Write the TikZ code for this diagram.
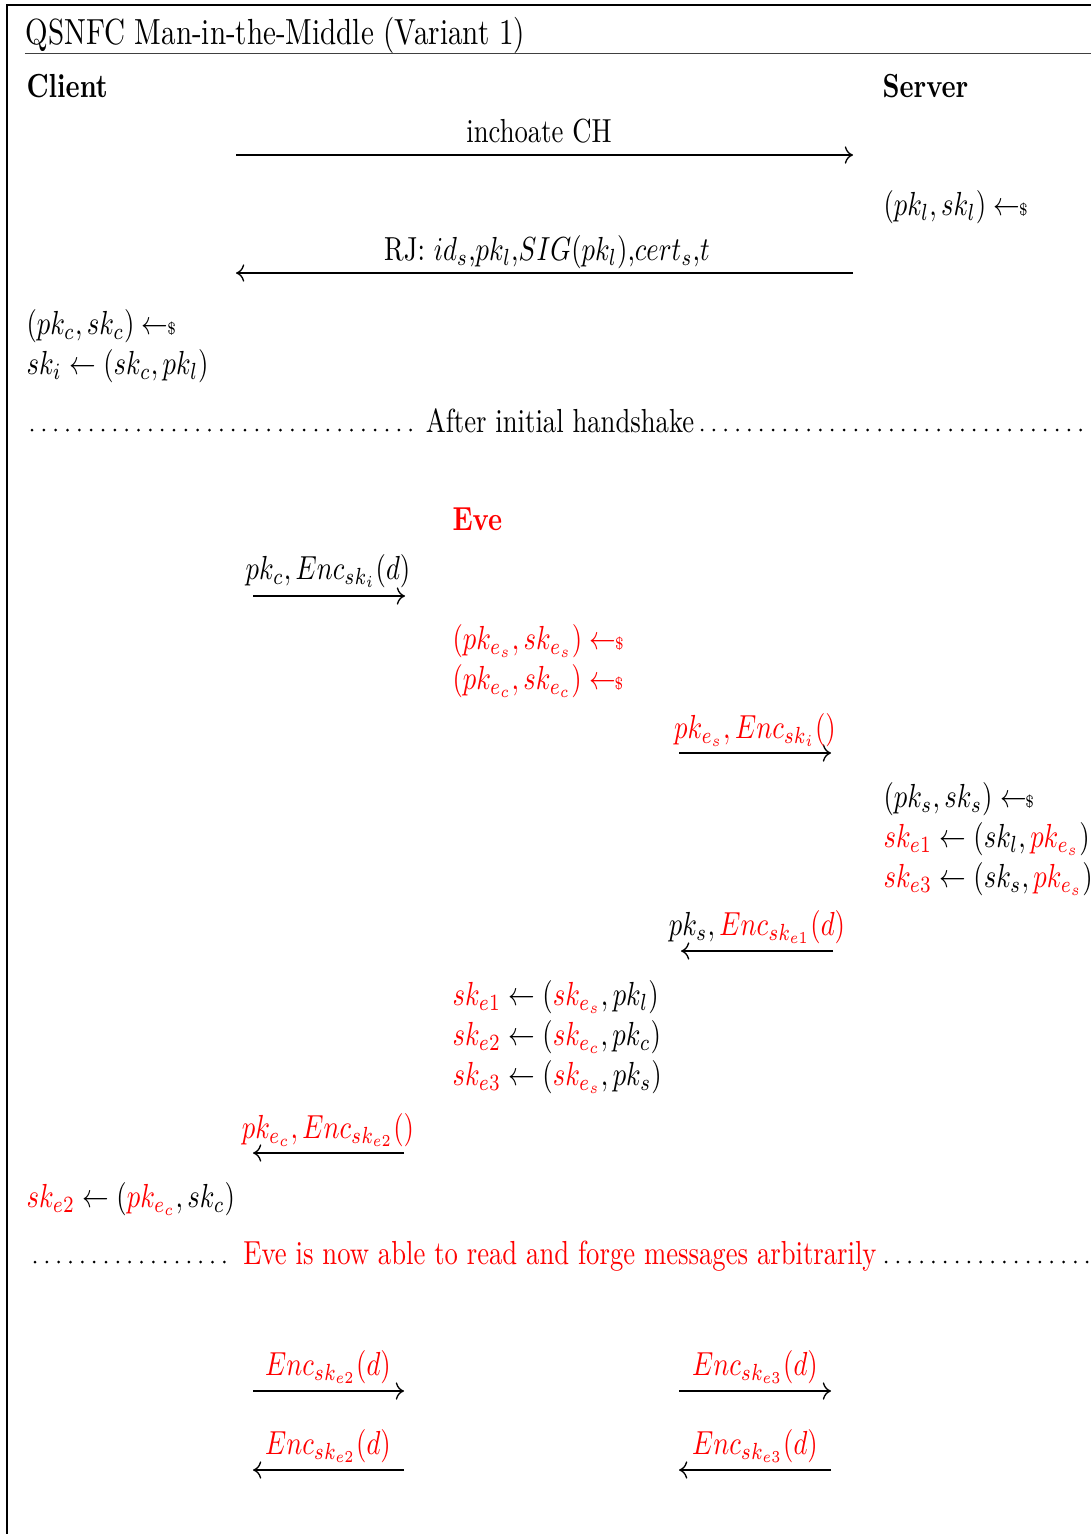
\documentclass[tikz,border=0pt]{standalone}
\usepackage{amsmath,amssymb}
\usetikzlibrary{calc, positioning, arrows.meta}
\newcommand{\smp}{\mathrel{\leftarrow\!\!\mbox{\tiny\$}}}
\newcommand{\ev}[1]{\textcolor{red}{#1}}

\begin{document}
\begin{tikzpicture}[xscale=0.8, x=0.375pt, y=-0.3pt,
    every node/.style={transform shape},
    txt/.style={anchor=base west, inner sep=0pt, yshift=-0.6pt},
    msglbl/.style={anchor=base, inner sep=0pt, yshift=-0.6pt},
    msg/.style={->, line width=0.4pt},
    dotline/.style={line width=0.9pt, line cap=round, dash pattern=on 0pt off 3.55pt}]
  \useasboundingbox (0,0) rectangle (1091,1534);
  \clip (0,0) rectangle (1091,1534);
  % frame and title
  \draw[line width=0.6pt] (7.5,1560) -- (7.5,4.5) -- (1120,4.5);
  \node[txt, font=\fontsize{10.9}{13}\selectfont] (title) at (25,42) {QSNFC Man-in-the-Middle (Variant 1)};
  \draw[black!75, line width=0.45pt] (25,53.5) -- (1120,53.5);
  \node[txt, font=\bfseries] (client) at (26,95) {Client};
  \node[txt, font=\bfseries] (server) at (882,95) {Server};

  % initial handshake
  \coordinate (m1a) at (236,155);
  \coordinate (m1b) at (853,155);
  \draw[msg] (m1a) -- (m1b);
  \node[msglbl] (m1) at (539,140) {inchoate CH};
  \node[txt] (genl) at (883,213) {$(pk_l, sk_l) \smp$};
  \coordinate (m2a) at (853,273);
  \coordinate (m2b) at (236,273);
  \draw[msg] (m2a) -- (m2b);
  \node[msglbl] (m2) at (547,258) {RJ: $id_s$,$pk_l$,$SIG(pk_l)$,$cert_s$,$t$};
  \node[txt] (genc) at (26,332) {$(pk_c, sk_c) \smp$};
  \node[txt] (ski) at (26,372) {$sk_i \leftarrow (sk_c, pk_l)$};

  % separator
  \node[msglbl] (sep1) at (560,430) {After initial handshake};
  \coordinate (d1a) at (32,430);
  \coordinate (d1b) at (419,430);
  \coordinate (d1c) at (702,430);
  \coordinate (d1d) at (1095,430);
  \draw[dotline] (d1a) -- (d1b);
  \draw[dotline] (d1c) -- (d1d);

  % attack
  \node[txt, text=red, font=\bfseries] (eve) at (452,528) {Eve};
  \coordinate (m3a) at (253,596);
  \coordinate (m3b) at (405,596);
  \draw[msg] (m3a) -- (m3b);
  \node[msglbl] (m3) at (328,577) {$pk_c, Enc_{sk_i}(d)$};
  \node[txt, text=red] (genes) at (452,647) {$(pk_{e_s}, sk_{e_s}) \smp$};
  \node[txt, text=red] (genec) at (452,687) {$(pk_{e_c}, sk_{e_c}) \smp$};
  \coordinate (m4a) at (679,753);
  \coordinate (m4b) at (831,753);
  \draw[msg] (m4a) -- (m4b);
  \node[msglbl, text=red] (m4) at (755,736) {$pk_{e_s}, Enc_{sk_i}()$};
  \node[txt] (gens) at (883,805) {$(pk_s, sk_s) \smp$};
  \node[txt] (sske1) at (883,845) {$\ev{sk_{e1}} \leftarrow (sk_l, \ev{pk_{e_s}})$};
  \node[txt] (sske3) at (883,885) {$\ev{sk_{e3}} \leftarrow (sk_s, \ev{pk_{e_s}})$};
  \coordinate (m5a) at (833,951);
  \coordinate (m5b) at (681,951);
  \draw[msg] (m5a) -- (m5b);
  \node[msglbl] (m5) at (757,933) {$pk_s, \ev{Enc_{sk_{e1}}(d)}$};
  \node[txt] (eske1) at (452,1003) {$\ev{sk_{e1}} \leftarrow (\ev{sk_{e_s}}, pk_l)$};
  \node[txt] (eske2) at (452,1043) {$\ev{sk_{e2}} \leftarrow (\ev{sk_{e_c}}, pk_c)$};
  \node[txt] (eske3) at (452,1083) {$\ev{sk_{e3}} \leftarrow (\ev{sk_{e_s}}, pk_s)$};
  \coordinate (m6a) at (404,1153);
  \coordinate (m6b) at (253,1153);
  \draw[msg] (m6a) -- (m6b);
  \node[msglbl, text=red] (m6) at (328,1136) {$pk_{e_c}, Enc_{sk_{e2}}()$};
  \node[txt] (cske2) at (26,1205) {$\ev{sk_{e2}} \leftarrow (\ev{pk_{e_c}}, sk_c)$};

  % separator
  \node[msglbl, text=red] (sep2) at (560,1262) {Eve is now able to read and forge messages arbitrarily};
  \coordinate (d2a) at (35,1262);
  \coordinate (d2b) at (236,1262);
  \coordinate (d2c) at (886,1262);
  \coordinate (d2d) at (1095,1262);
  \draw[dotline] (d2a) -- (d2b);
  \draw[dotline] (d2c) -- (d2d);

  % forged traffic
  \coordinate (m7a) at (253,1391);
  \coordinate (m7b) at (404,1391);
  \draw[msg] (m7a) -- (m7b);
  \node[msglbl, text=red] (m7) at (328,1373) {$Enc_{sk_{e2}}(d)$};
  \coordinate (m8a) at (679,1391);
  \coordinate (m8b) at (831,1391);
  \draw[msg] (m8a) -- (m8b);
  \node[msglbl, text=red] (m8) at (755,1373) {$Enc_{sk_{e3}}(d)$};
  \coordinate (m9a) at (404,1470);
  \coordinate (m9b) at (253,1470);
  \draw[msg] (m9a) -- (m9b);
  \node[msglbl, text=red] (m9) at (328,1452) {$Enc_{sk_{e2}}(d)$};
  \coordinate (m10a) at (831,1470);
  \coordinate (m10b) at (679,1470);
  \draw[msg] (m10a) -- (m10b);
  \node[msglbl, text=red] (m10) at (755,1452) {$Enc_{sk_{e3}}(d)$};
\end{tikzpicture}
\end{document}
